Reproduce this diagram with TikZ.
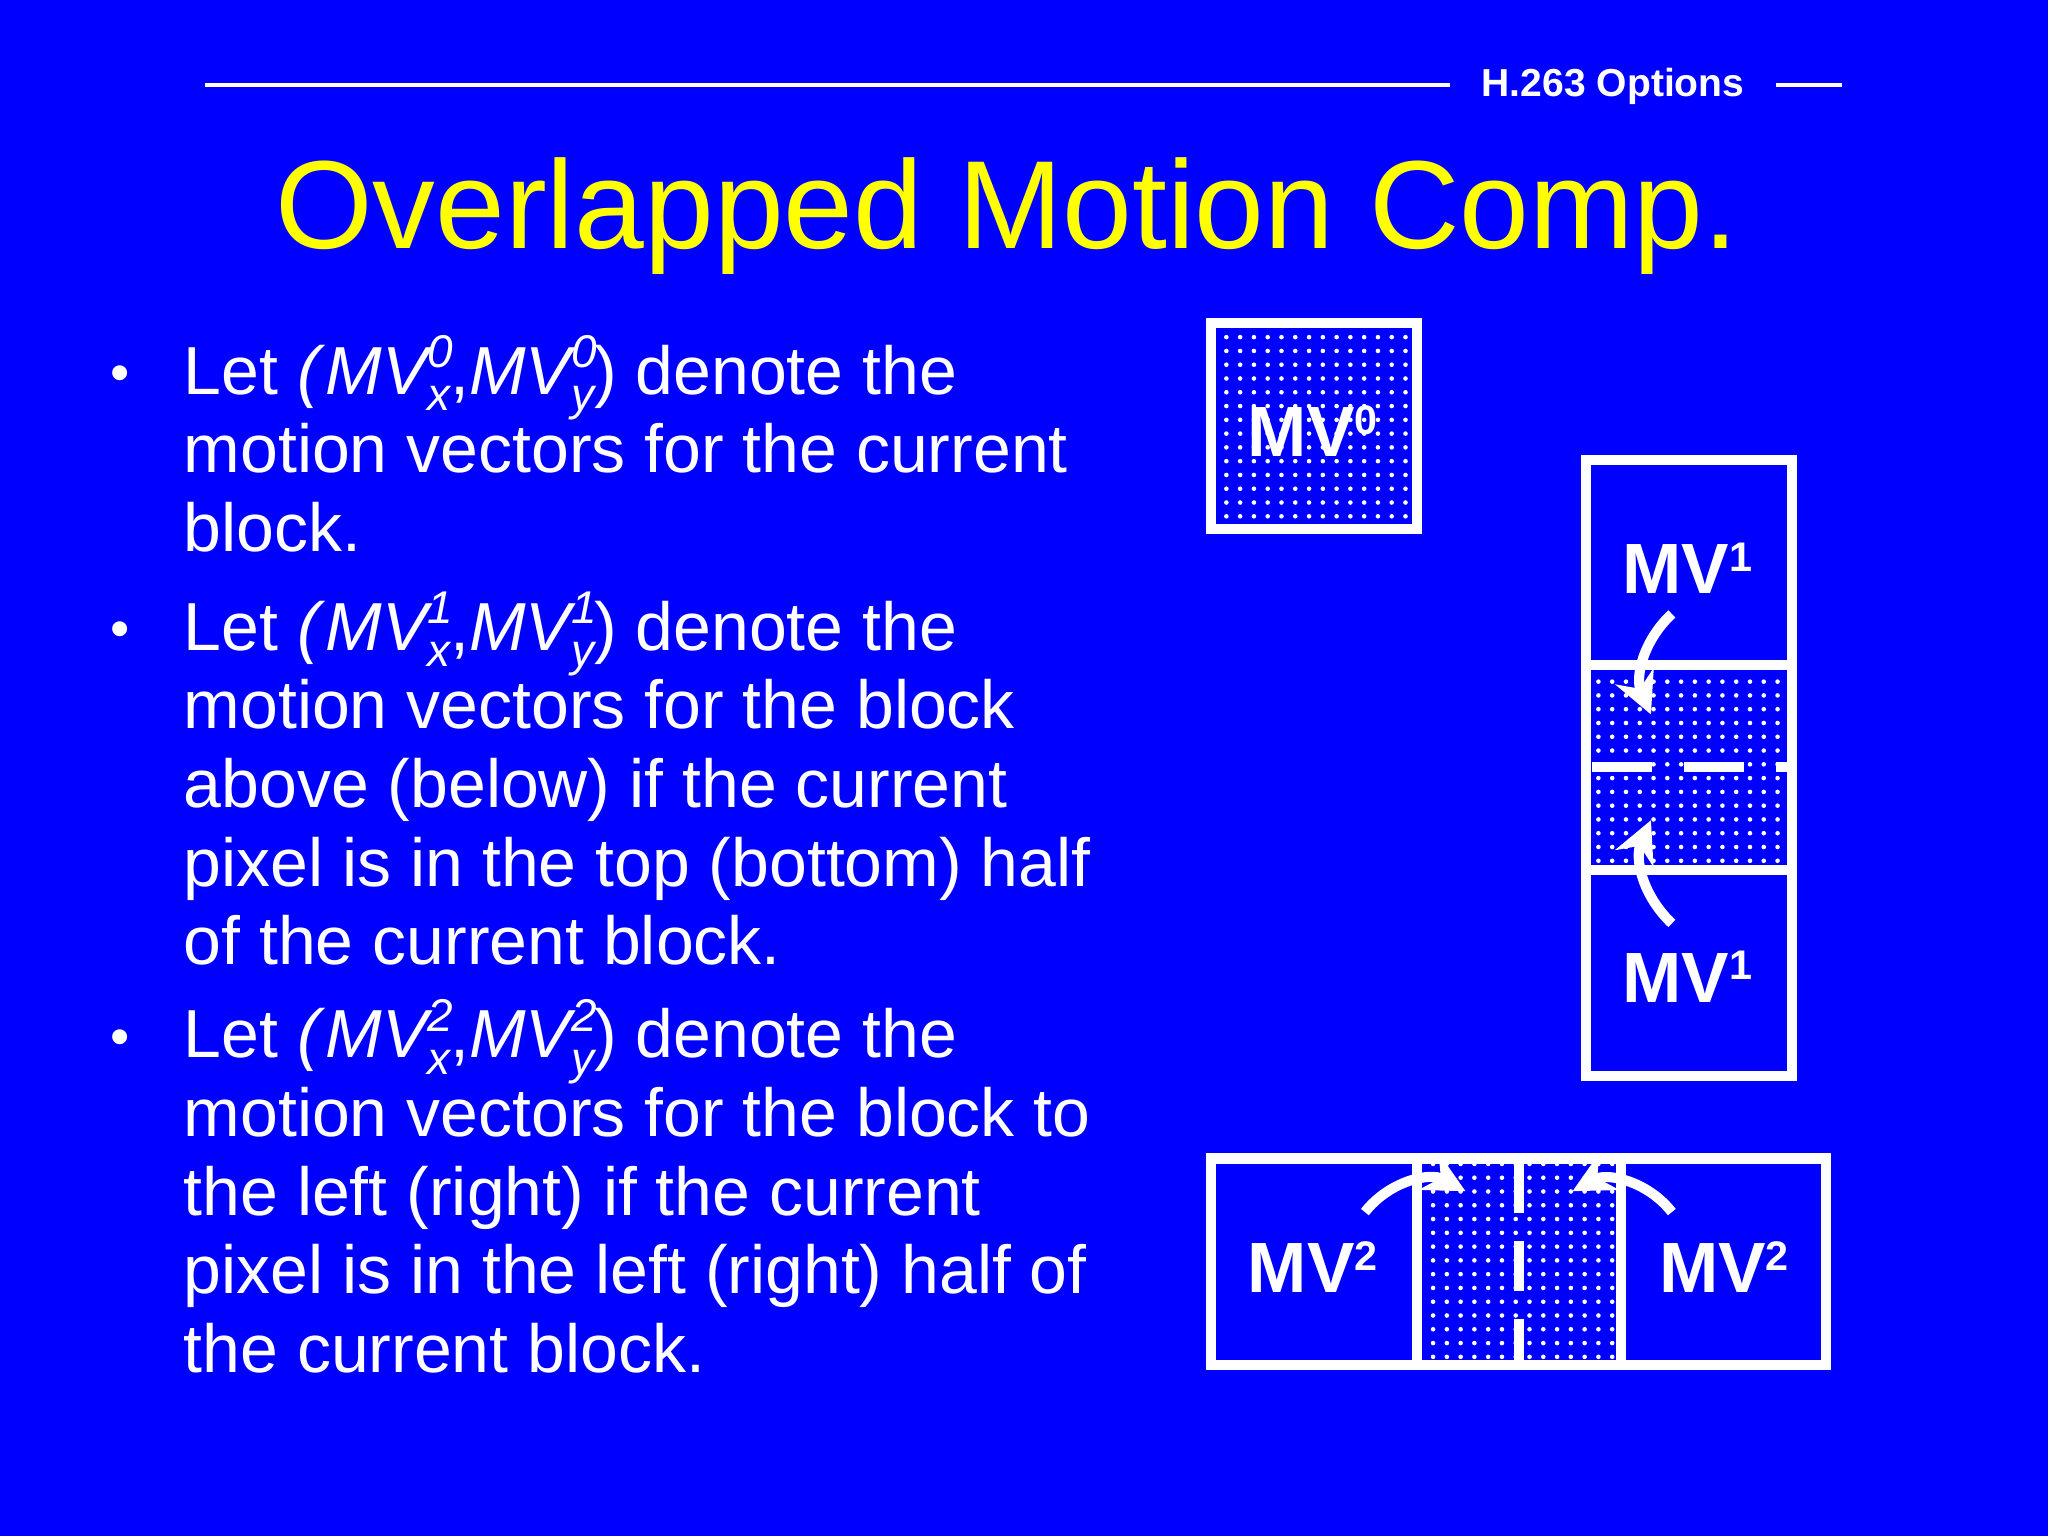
\documentclass[tikz,border=0pt]{standalone}
\usepackage{fontspec}
\setmainfont{Liberation Sans}
\usetikzlibrary{patterns,arrows.meta}
\definecolor{bg}{RGB}{0,0,255}
\definecolor{ttl}{RGB}{255,255,0}
\newcommand{\mvs}[2]{\textit{MV\rlap{\raisebox{0.75ex}{\fontsize{10}{10}\selectfont #1}}\raisebox{-0.45ex}{\fontsize{10}{10}\selectfont #2}}}
\newcommand{\lsup}[1]{\raisebox{0.6ex}{\fontsize{9}{9}\selectfont\bfseries #1}}
\begin{document}
\begin{tikzpicture}[x=0.01cm,y=-0.01cm,
  box/.style={draw=white,line width=2.2pt},
  dotsfill/.style={pattern=dots,pattern color=white},
  lbl/.style={text=white,font=\fontsize{15.5}{18}\selectfont\bfseries},
  txt/.style={text=white,anchor=base west,inner sep=0pt,font=\fontsize{14.8}{17.1}\selectfont},
  arr/.style={white,line width=2.2pt,-{Stealth[length=9pt,width=9pt]}}]
\fill[bg] (0,0) rectangle (1568,1176);
\useasboundingbox (0,0) rectangle (1568,1176);
% header
\coordinate (h1) at (157,65); \coordinate (h2) at (1110,65);
\coordinate (h3) at (1360,65); \coordinate (h4) at (1410,65);
\draw[white,line width=0.8pt] (h1)--(h2) (h3)--(h4);
\node[text=white,font=\fontsize{8.5}{10}\selectfont\bfseries] (hdr) at (1235,66) {H.263 Options};
\node[text=ttl,anchor=base,inner sep=0pt,font=\fontsize{27.3}{32}\selectfont] (title) at (771,190) {Overlapped Motion Comp.};
% bullets
\foreach \y/\n in {300/b1,496/b2,808/b3}
  \node[txt,font=\fontsize{12}{14}\selectfont] (\n) at (84,\y) {•};
\node[txt] (t1) at (140,302) {\parbox[t]{7.4cm}{Let \textit{(}\mvs{0}{x},\mvs{0}{y}) denote the\\motion vectors for the current\\block.}};
\node[txt] (t2) at (140,498) {\parbox[t]{7.4cm}{Let \textit{(}\mvs{1}{x},\mvs{1}{y}) denote the\\motion vectors for the block\\above (below) if the current\\pixel is in the top (bottom) half\\of the current block.}};
\node[txt] (t3) at (140,810) {\parbox[t]{7.4cm}{Let \textit{(}\mvs{2}{x},\mvs{2}{y}) denote the\\motion vectors for the block to\\the left (right) if the current\\pixel is in the left (right) half of\\the current block.}};
% MV0 block
\draw[box,dotsfill] (927,247) rectangle (1085,405);
\node[lbl] (m0) at (1005,330) {MV\lsup{0}};
% vertical stack
\fill[dotsfill] (1214,509) rectangle (1372,666);
\draw[box] (1214,352) rectangle (1372,824);
\draw[box] (1214,509)--(1372,509) (1214,666)--(1372,666);
\draw[box,dash pattern=on 13pt off 7pt] (1219,587)--(1372,587);
\node[lbl] (m1a) at (1292,435) {MV\lsup{1}};
\node[lbl] (m1b) at (1292,748) {MV\lsup{1}};
\coordinate (a1s) at (1280,470); \coordinate (a1e) at (1264,547);
\coordinate (a2s) at (1280,707); \coordinate (a2e) at (1264,628);
\draw[arr] (a1s) to[bend right=35] (a1e);
\draw[arr] (a2s) to[bend left=35] (a2e);
% horizontal stack
\fill[dotsfill] (1085,887) rectangle (1241,1045);
\draw[box] (927,887) rectangle (1398,1045);
\draw[box] (1085,887)--(1085,1045) (1241,887)--(1241,1045);
\draw[box,dash pattern=on 11pt off 6pt] (1163,890)--(1163,1045);
\node[lbl] (m2a) at (1005,970) {MV\lsup{2}};
\node[lbl] (m2b) at (1320,970) {MV\lsup{2}};
\coordinate (a3s) at (1045,928); \coordinate (a3e) at (1122,912);
\coordinate (a4s) at (1280,928); \coordinate (a4e) at (1204,912);
\draw[arr] (a3s) to[bend left=40] (a3e);
\draw[arr] (a4s) to[bend right=40] (a4e);
\end{tikzpicture}
\end{document}
